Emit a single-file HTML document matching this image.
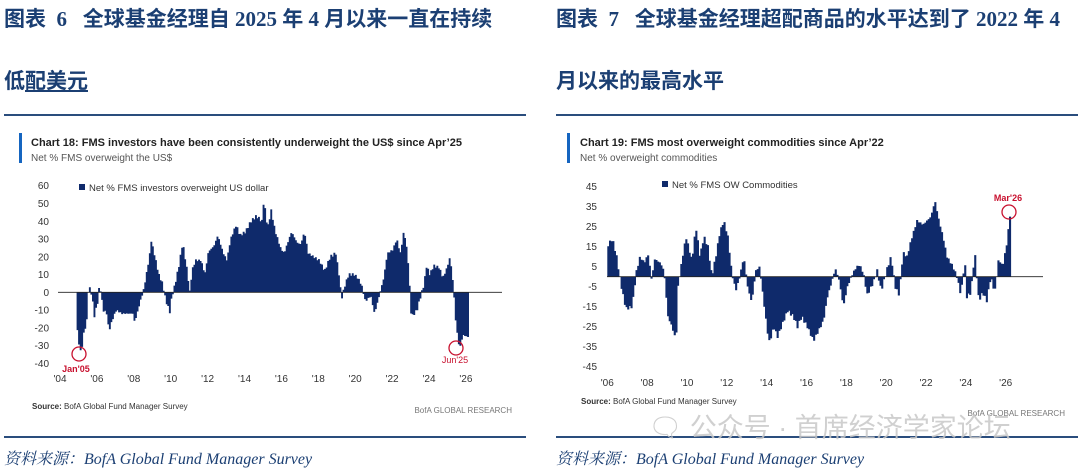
<!DOCTYPE html>
<html><head><meta charset="utf-8"><style>
body{margin:0;width:1080px;height:469px;background:#fff;overflow:hidden;position:relative;font-family:"Liberation Sans","Noto Sans CJK SC",sans-serif}
.h{position:absolute;color:#1b3f73;font-weight:bold;font-size:21px;font-family:"Liberation Serif","Noto Sans CJK SC",sans-serif;white-space:nowrap}
.ln{position:absolute;height:2px;background:#2a4d7d}
.src{position:absolute;top:446px;color:#1b3f73;font-style:italic;font-size:16px;font-family:"Liberation Serif","Noto Serif CJK SC",serif;white-space:nowrap}
</style></head><body>
<div class="h" style="left:4px;top:3px">图表 &nbsp;6 &nbsp;&nbsp;全球基金经理自 2025 年 4 月以来一直在持续</div>
<div class="h" style="left:4px;top:65px">低<span style="text-decoration:underline">配美元</span></div>
<div class="h" style="left:556px;top:3px">图表 &nbsp;7 &nbsp;&nbsp;全球基金经理超配商品的水平达到了 2022 年 4</div>
<div class="h" style="left:556px;top:65px">月以来的最高水平</div>
<div class="ln" style="left:4px;top:114px;width:522px"></div>
<div class="ln" style="left:556px;top:114px;width:522px"></div>
<div class="ln" style="left:4px;top:436px;width:522px"></div>
<div class="ln" style="left:556px;top:436px;width:522px"></div>
<div class="src" style="left:4px">资料来源：BofA Global Fund Manager Survey</div>
<div class="src" style="left:556px">资料来源：BofA Global Fund Manager Survey</div>
<svg id="s" width="1080" height="469" style="position:absolute;left:0;top:0" font-family="Liberation Sans, sans-serif">
<rect x="19" y="133" width="3" height="30" fill="#1565c0"/>
<text x="31" y="146" font-size="11" font-weight="bold" fill="#222">Chart 18: FMS investors have been consistently underweight the US$ since Apr’25</text>
<text x="31" y="161" font-size="10" fill="#555">Net % FMS overweight the US$</text>
<rect x="567" y="133" width="3" height="30" fill="#1565c0"/>
<text x="580" y="146" font-size="11" font-weight="bold" fill="#222">Chart 19: FMS most overweight commodities since Apr’22</text>
<text x="580" y="161" font-size="10" fill="#555">Net % overweight commodities</text>
<rect x="79" y="184" width="6" height="6" fill="#0f2a6b"/>
<text x="89" y="191" font-size="9.5" fill="#333">Net % FMS investors overweight US dollar</text>
<rect x="662" y="181" width="6" height="6" fill="#0f2a6b"/>
<text x="672" y="188" font-size="9.5" fill="#333">Net % FMS OW Commodities</text>
<text x="32" y="409" font-size="8" fill="#333"><tspan font-weight="bold">Source:</tspan> BofA Global Fund Manager Survey</text>
<text x="581" y="404" font-size="8" fill="#333"><tspan font-weight="bold">Source:</tspan> BofA Global Fund Manager Survey</text>
<text x="512" y="413" font-size="8" fill="#777" text-anchor="end">BofA GLOBAL RESEARCH</text>
<text x="1065" y="416" font-size="8" fill="#777" text-anchor="end">BofA GLOBAL RESEARCH</text>
<text x="648" y="437" font-size="27" fill="#c8c8c8" opacity="0.85">🗨 公众号 · 首席经济学家论坛</text>
</svg>
<script>
var NS="http://www.w3.org/2000/svg",svg=document.getElementById('s');
function el(t,a,txt){var e=document.createElementNS(NS,t);for(var k in a)e.setAttribute(k,a[k]);if(txt!=null)e.textContent=txt;svg.appendChild(e);return e;}
function chart(o){
 var y=function(v){return o.y0-v*o.py;},x=function(yr){return o.x0+(yr-o.yr0)*o.px;};
 o.ticks.forEach(function(t){el('text',{x:o.lx,y:y(t)+3.5,'font-size':10,fill:'#333','text-anchor':'end'},t);});
 o.xt.forEach(function(t){el('text',{x:x(t),y:o.xly,'font-size':10,fill:'#333','text-anchor':'middle'},"'"+String(t).slice(2));});
 var d=o.d,bw=o.px/12,p='';
 for(var yr=d[0][0];yr<=d[d.length-1][0];yr+=1/12){
  var i=0;while(i<d.length-2&&d[i+1][0]<yr)i++;
  var a=d[i],b=d[i+1],f=Math.min(1,Math.max(0,(yr-a[0])/(b[0]-a[0])));
  var v=a[1]+(b[1]-a[1])*f+Math.sin(yr*37)*0.8;
  var xx=x(yr),yt=Math.min(y(v),o.y0),h=Math.abs(y(v)-o.y0);
  p+='M'+xx.toFixed(1)+' '+yt.toFixed(1)+'h'+(bw+0.4).toFixed(1)+'v'+h.toFixed(1)+'h-'+(bw+0.4).toFixed(1)+'z';
 }
 el('path',{d:p,fill:'#0f2a6b'});
 el('line',{x1:o.ax1,x2:o.ax2,y1:o.y0,y2:o.y0,stroke:'#222','stroke-width':0.8});
}
chart({y0:292.3,py:1.776,x0:60,yr0:2004,px:18.45,lx:49,xly:382,ax1:58,ax2:502,
 ticks:[60,50,40,30,20,10,0,-10,-20,-30,-40],xt:[2004,2006,2008,2010,2012,2014,2016,2018,2020,2022,2024,2026],
 d:[[2004.9,-22],[2005,-30],[2005.1,-35],[2005.2,-25],[2005.4,-16],[2005.5,4],[2005.7,-2],[2005.8,-14],[2006,-5],[2006.1,5],[2006.3,-10],[2006.5,-12],[2006.6,-22],[2006.8,-15],[2007,-10],[2007.3,-12],[2007.6,-12],[2007.9,-12],[2008,-17],[2008.3,-5],[2008.5,2],[2008.6,8],[2008.8,20],[2008.9,29],[2009.1,20],[2009.3,10],[2009.5,5],[2009.7,-5],[2009.9,-11],[2010,-3],[2010.2,5],[2010.4,15],[2010.6,28],[2010.8,15],[2011,-1],[2011.1,12],[2011.3,18],[2011.6,18],[2011.8,10],[2012,23],[2012.3,26],[2012.5,32],[2012.8,22],[2013,18],[2013.2,30],[2013.5,38],[2013.7,32],[2014,34],[2014.3,40],[2014.6,43],[2014.9,40],[2015,52],[2015.2,36],[2015.4,46],[2015.6,35],[2015.9,25],[2016.1,22],[2016.5,34],[2016.8,28],[2017,27],[2017.2,34],[2017.4,22],[2017.7,20],[2018,18],[2018.3,12],[2018.6,20],[2018.9,22],[2019.1,8],[2019.2,-4],[2019.4,4],[2019.6,10],[2019.9,10],[2020.1,8],[2020.3,4],[2020.5,-5],[2020.8,-2],[2021,-12],[2021.2,-4],[2021.5,8],[2021.7,22],[2022,24],[2022.2,30],[2022.4,22],[2022.6,35],[2022.8,20],[2023,-14],[2023.3,-10],[2023.5,-2],[2023.7,5],[2023.8,15],[2024,10],[2024.2,15],[2024.5,14],[2024.7,8],[2024.9,13],[2025.1,20],[2025.3,0],[2025.4,-16],[2025.6,-32],[2025.8,-24],[2026,-25],[2026.1,-25]]});
chart({y0:276.7,py:2.0,x0:607.3,yr0:2006,px:19.92,lx:597,xly:386,ax1:607,ax2:1043,
 ticks:[45,35,25,15,5,-5,-15,-25,-35,-45],xt:[2006,2008,2010,2012,2014,2016,2018,2020,2022,2024,2026],
 d:[[2006,16],[2006.2,19],[2006.4,11],[2006.6,-2],[2006.8,-12],[2006.9,-16],[2007.2,-15],[2007.4,2],[2007.6,10],[2007.8,7],[2008,11],[2008.2,-3],[2008.3,9],[2008.6,7],[2008.8,3],[2009,-20],[2009.2,-25],[2009.4,-32],[2009.5,-5],[2009.7,8],[2009.9,20],[2010.2,8],[2010.4,25],[2010.6,10],[2010.8,20],[2011,15],[2011.2,0],[2011.4,10],[2011.6,22],[2011.8,28],[2012,20],[2012.2,2],[2012.4,-7],[2012.6,0],[2012.8,10],[2013,-5],[2013.2,-13],[2013.4,3],[2013.6,5],[2013.8,-12],[2014,-28],[2014.1,-33],[2014.3,-25],[2014.5,-30],[2014.8,-22],[2015,-17],[2015.3,-20],[2015.5,-25],[2015.7,-20],[2016,-25],[2016.3,-32],[2016.5,-28],[2016.8,-22],[2017,-10],[2017.2,-3],[2017.4,4],[2017.6,-2],[2017.8,-15],[2018,-5],[2018.2,0],[2018.4,4],[2018.6,6],[2018.8,2],[2019,-9],[2019.3,-3],[2019.5,3],[2019.7,-7],[2020,4],[2020.2,10],[2020.4,-5],[2020.6,-9],[2020.8,12],[2021,10],[2021.2,18],[2021.5,28],[2021.8,26],[2022,28],[2022.2,30],[2022.4,38],[2022.6,28],[2022.8,20],[2023,10],[2023.3,5],[2023.5,0],[2023.7,-9],[2023.9,8],[2024,-10],[2024.2,-8],[2024.4,12],[2024.6,-12],[2024.8,-8],[2025,-12],[2025.2,0],[2025.4,-8],[2025.6,9],[2025.8,5],[2026,16],[2026.1,25],[2026.2,33]]});
el('circle',{cx:79,cy:354,r:7,fill:'none',stroke:'#c8102e','stroke-width':1.3});
el('text',{x:76,y:372,'font-size':9,'font-weight':'bold',fill:'#c8102e','text-anchor':'middle'},"Jan'05");
el('circle',{cx:456,cy:348,r:7,fill:'none',stroke:'#c8102e','stroke-width':1.3});
el('text',{x:455,y:363,'font-size':9,fill:'#c8102e','text-anchor':'middle'},"Jun'25");
el('circle',{cx:1009,cy:212,r:7,fill:'none',stroke:'#c8102e','stroke-width':1.3});
el('text',{x:1008,y:201,'font-size':9,'font-weight':'bold',fill:'#c8102e','text-anchor':'middle'},"Mar'26");
</script>
</body></html>
